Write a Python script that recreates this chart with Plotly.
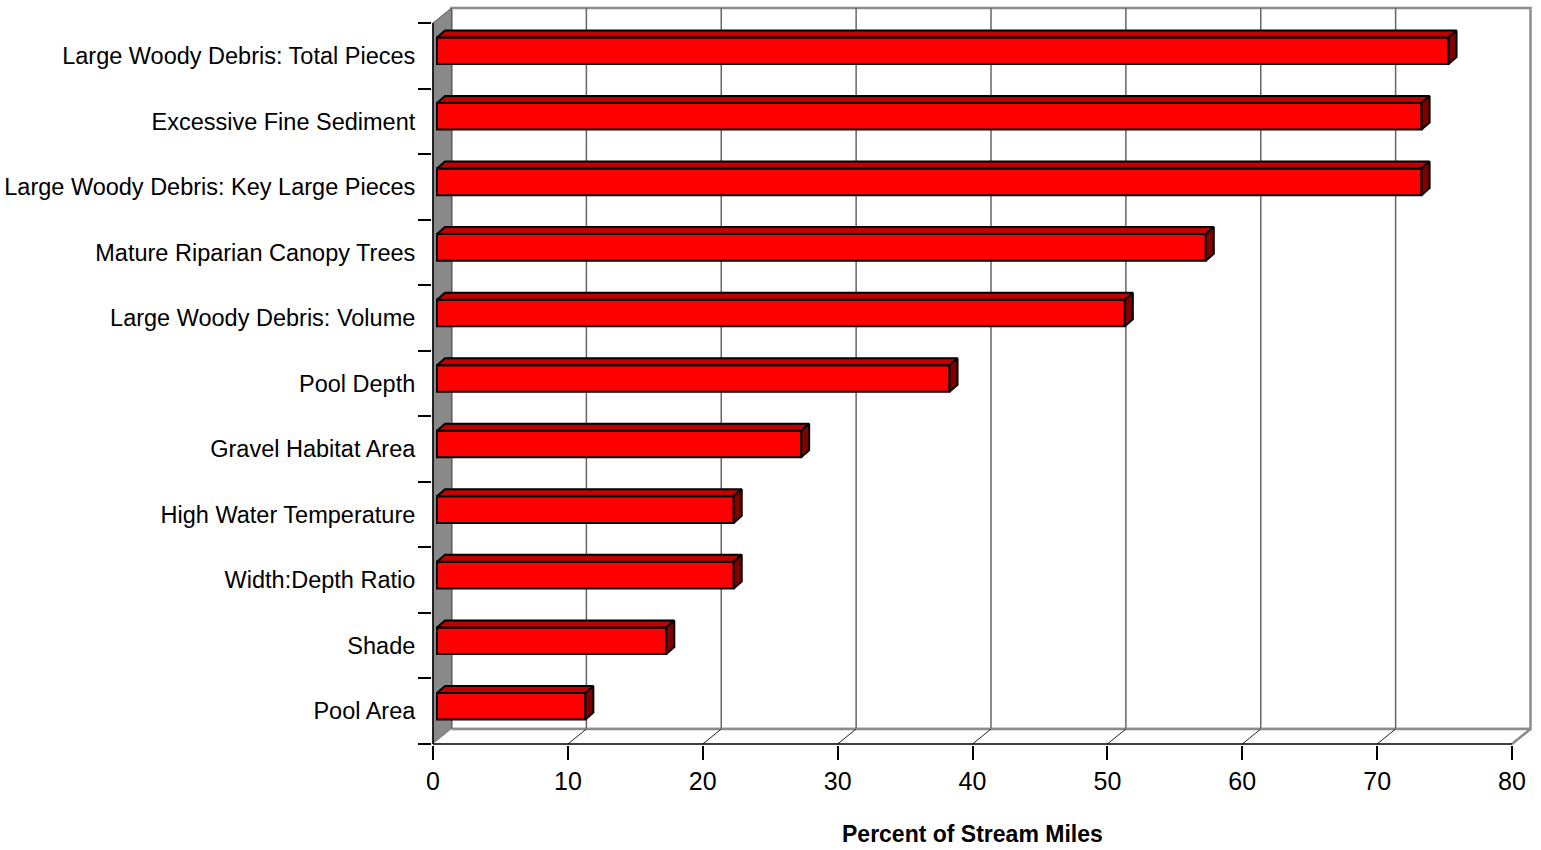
import plotly.graph_objects as go

# ---------------- data ----------------
categories = [
    "Pool Area",
    "Shade",
    "Width:Depth Ratio",
    "High Water Temperature",
    "Gravel Habitat Area",
    "Pool Depth",
    "Large Woody Debris: Volume",
    "Mature Riparian Canopy Trees",
    "Large Woody Debris: Key Large Pieces",
    "Excessive Fine Sediment",
    "Large Woody Debris: Total Pieces",
]
values = [11, 17, 22, 22, 27, 38, 51, 57, 73, 73, 75]
x_ticks = [0, 10, 20, 30, 40, 50, 60, 70, 80]
x_title = "Percent of Stream Miles"

# ---------------- geometry (layout only) ----------------
W, H = 1541, 850
SX = 13.4875          # px per percent
SY = 65.545           # px per category
X0PX, YBOT = 433, 744 # pixel of value 0 / front floor line
PL, PR, PT, PB = 432, 1538, 4, 745
XMAX_TICK = x_ticks[-1]

xrange = [(PL - X0PX) / SX, (PR - X0PX) / SX]
yrange = [-0.5 - (PB - YBOT) / SY, -0.5 + (YBOT - PT) / SY]

DX, DY = 18.5 / SX, 15 / SY          # depth of the 3-D box
FX, FY = 4 / SX, 5 / SY              # offset of bar front face
HH = 13.3 / SY                       # half height of bar face
BDX, BDY = 8 / SX, 7 / SY            # bar depth

n = len(categories)
idx = list(range(n))
ylo, yhi = -0.5, n - 0.5

FONT = "Liberation Sans, Arial, sans-serif"


def path(pts, close=True):
    s = "M " + " L ".join(f"{x},{y}" for x, y in pts)
    return s + (" Z" if close else "")


shapes = []
# back wall
shapes.append(dict(type="path", xref="x", yref="y", layer="below",
                   path=path([(DX, ylo + DY), (XMAX_TICK + DX, ylo + DY),
                              (XMAX_TICK + DX, yhi + DY), (DX, yhi + DY)]),
                   fillcolor="white", line=dict(color="#8c8c8c", width=2.5)))
# back wall gridlines
for t in x_ticks[1:-1]:
    shapes.append(dict(type="line", xref="x", yref="y", layer="below",
                       x0=t + DX, x1=t + DX, y0=ylo + DY, y1=yhi + DY,
                       line=dict(color="#666666", width=1.5)))
# left side wall
shapes.append(dict(type="path", xref="x", yref="y", layer="below",
                   path=path([(0, ylo), (0, yhi), (DX, yhi + DY), (DX, ylo + DY)]),
                   fillcolor="#898989", line=dict(color="#5a5a5a", width=1)))
# floor
shapes.append(dict(type="path", xref="x", yref="y", layer="below",
                   path=path([(0, ylo), (XMAX_TICK, ylo), (XMAX_TICK + DX, ylo + DY), (DX, ylo + DY)]),
                   fillcolor="white", line=dict(width=0)))
shapes.append(dict(type="line", xref="x", yref="y", layer="below",
                   x0=DX, x1=XMAX_TICK + DX, y0=ylo + DY, y1=ylo + DY,
                   line=dict(color="#8c8c8c", width=2.5)))
shapes.append(dict(type="line", xref="x", yref="y", layer="below",
                   x0=XMAX_TICK, x1=XMAX_TICK + DX, y0=ylo, y1=ylo + DY,
                   line=dict(color="#8c8c8c", width=2.5)))
for t in x_ticks[1:-1]:
    shapes.append(dict(type="line", xref="x", yref="y", layer="below",
                       x0=t, x1=t + DX, y0=ylo, y1=ylo + DY,
                       line=dict(color="#222222", width=1)))
# front edges
shapes.append(dict(type="line", xref="x", yref="y", layer="below",
                   x0=0, x1=XMAX_TICK, y0=ylo, y1=ylo,
                   line=dict(color="black", width=1.5)))
shapes.append(dict(type="line", xref="x", yref="y", layer="below",
                   x0=0, x1=0, y0=ylo, y1=yhi,
                   line=dict(color="black", width=1.5)))

fig = go.Figure()

# front faces of the bars
fig.add_trace(go.Bar(
    orientation="h",
    y=[i + FY for i in idx],
    x=values,
    base=FX,
    width=2 * HH,
    marker=dict(color="#ff0000", line=dict(color="black", width=2)),
    hoverinfo="skip",
    showlegend=False,
))

# top faces and side faces (built from values)
top_x, top_y, side_x, side_y = [], [], [], []
for i, v in zip(idx, values):
    yt = i + FY + HH
    yb = i + FY - HH
    xl = FX
    xr = FX + v
    top_x += [xl, xr, xr + BDX, xl + BDX, xl, None]
    top_y += [yt, yt, yt + BDY, yt + BDY, yt, None]
    side_x += [xr, xr + BDX, xr + BDX, xr, xr, None]
    side_y += [yb, yb + BDY, yt + BDY, yt, yb, None]

fig.add_trace(go.Scatter(x=top_x, y=top_y, mode="lines", fill="toself",
                         fillcolor="#c00000", line=dict(color="black", width=2),
                         hoverinfo="skip", showlegend=False))
fig.add_trace(go.Scatter(x=side_x, y=side_y, mode="lines", fill="toself",
                         fillcolor="#800000", line=dict(color="black", width=2),
                         hoverinfo="skip", showlegend=False))

# invisible trace so the boundary-tick axis is drawn
fig.add_trace(go.Scatter(x=[0], y=[0], yaxis="y2", mode="markers",
                         marker=dict(opacity=0), hoverinfo="skip", showlegend=False))

fig.add_annotation(text=f"<b>{x_title}</b>", xref="x", x=XMAX_TICK / 2,
                   yref="paper", y=(PB - 834) / (PB - PT), yanchor="middle",
                   showarrow=False, font=dict(family=FONT, size=23, color="black"))

fig.update_layout(
    width=W, height=H,
    margin=dict(l=PL, r=W - PR, t=PT, b=H - PB, pad=0),
    paper_bgcolor="white", plot_bgcolor="white",
    shapes=shapes,
    barmode="overlay",
    xaxis=dict(range=xrange, tickvals=x_ticks, ticktext=[str(t) for t in x_ticks],
               ticks="outside", ticklen=14, tickwidth=1.5, tickcolor="black",
               showgrid=False, zeroline=False, showline=False,
               tickfont=dict(family=FONT, size=25, color="black")),
    yaxis=dict(range=yrange, tickvals=idx, ticktext=categories,
               ticks="outside", ticklen=11, tickcolor="rgba(0,0,0,0)",
               showgrid=False, zeroline=False, showline=False,
               tickfont=dict(family=FONT, size=23.5, color="black")),
    yaxis2=dict(overlaying="y", matches="y", side="left",
                tickvals=[i - 0.5 for i in range(n + 1)],
                ticks="outside", ticklen=13, tickwidth=1.5, tickcolor="black",
                showticklabels=False, showgrid=False, zeroline=False, showline=False),
    font=dict(family=FONT, color="black"),
)

fig.write_html("out.html")
